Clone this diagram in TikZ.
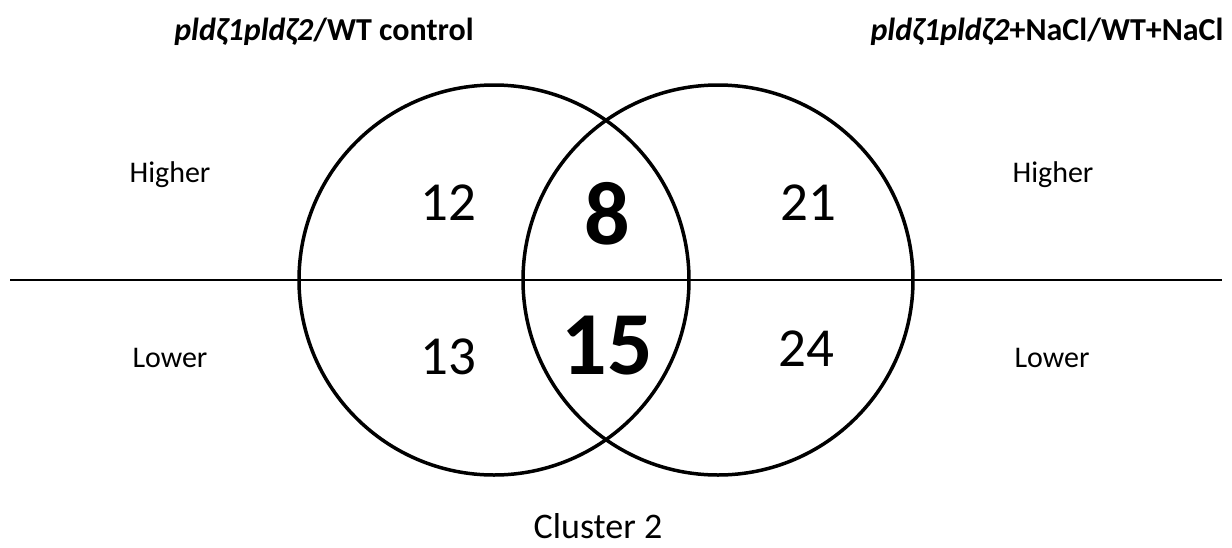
\documentclass[tikz,border=0pt]{standalone}
\usepackage{fontspec}
\setmainfont{Carlito}
\begin{document}
\begin{tikzpicture}[x=1pt,y=-1pt,
  setcircle/.style={draw=black,line width=3.5pt},
  divider/.style={draw=black,line width=2.8pt},
  side/.style={inner sep=0pt,anchor=base,font=\fontsize{30}{36}\selectfont},
  title/.style={inner sep=0pt,anchor=base,font=\bfseries\fontsize{32}{38}\selectfont},
  count/.style={inner sep=0pt,anchor=center,font=\fontsize{55}{66}\selectfont},
  shared/.style={inner sep=0pt,anchor=center,font=\bfseries\fontsize{90}{106}\selectfont},
  caption/.style={inner sep=0pt,anchor=base,font=\fontsize{36}{44}\selectfont}]
\useasboundingbox (0,0) rectangle (1232,547);
\fill[white] (0,0) rectangle (1232,547);

% the two sets
\draw[setcircle] (494,280) circle[radius=195];
\draw[setcircle] (718,280) circle[radius=195];

% higher / lower split
\coordinate (lineL) at (10,280);
\coordinate (lineR) at (1222,280);
\draw[divider] (lineL) -- (lineR);

% set titles
\node[title] (tL) at (324,40) {\textit{pldζ1pldζ2}/WT control};
\node[title] (tR) at (1047,40) {\textit{pldζ1pldζ2}+NaCl/WT+NaCl};

% side labels
\node[side] (hL) at (170,182) {Higher};
\node[side] (lL) at (170,367) {Lower};
\node[side] (hR) at (1053,182) {Higher};
\node[side] (lR) at (1052,367) {Lower};

% counts
\node[count] (c12) at (448,203) {12};
\node[count] (c13) at (448,357) {13};
\node[count] (c21) at (808,203) {21};
\node[count] (c24) at (806,349) {24};
\node[shared] (c8) at (607,214) {8};
\node[shared] (c15) at (607,346) {15};

% caption
\node[caption] (cap) at (598,538) {Cluster 2};
\end{tikzpicture}
\end{document}
